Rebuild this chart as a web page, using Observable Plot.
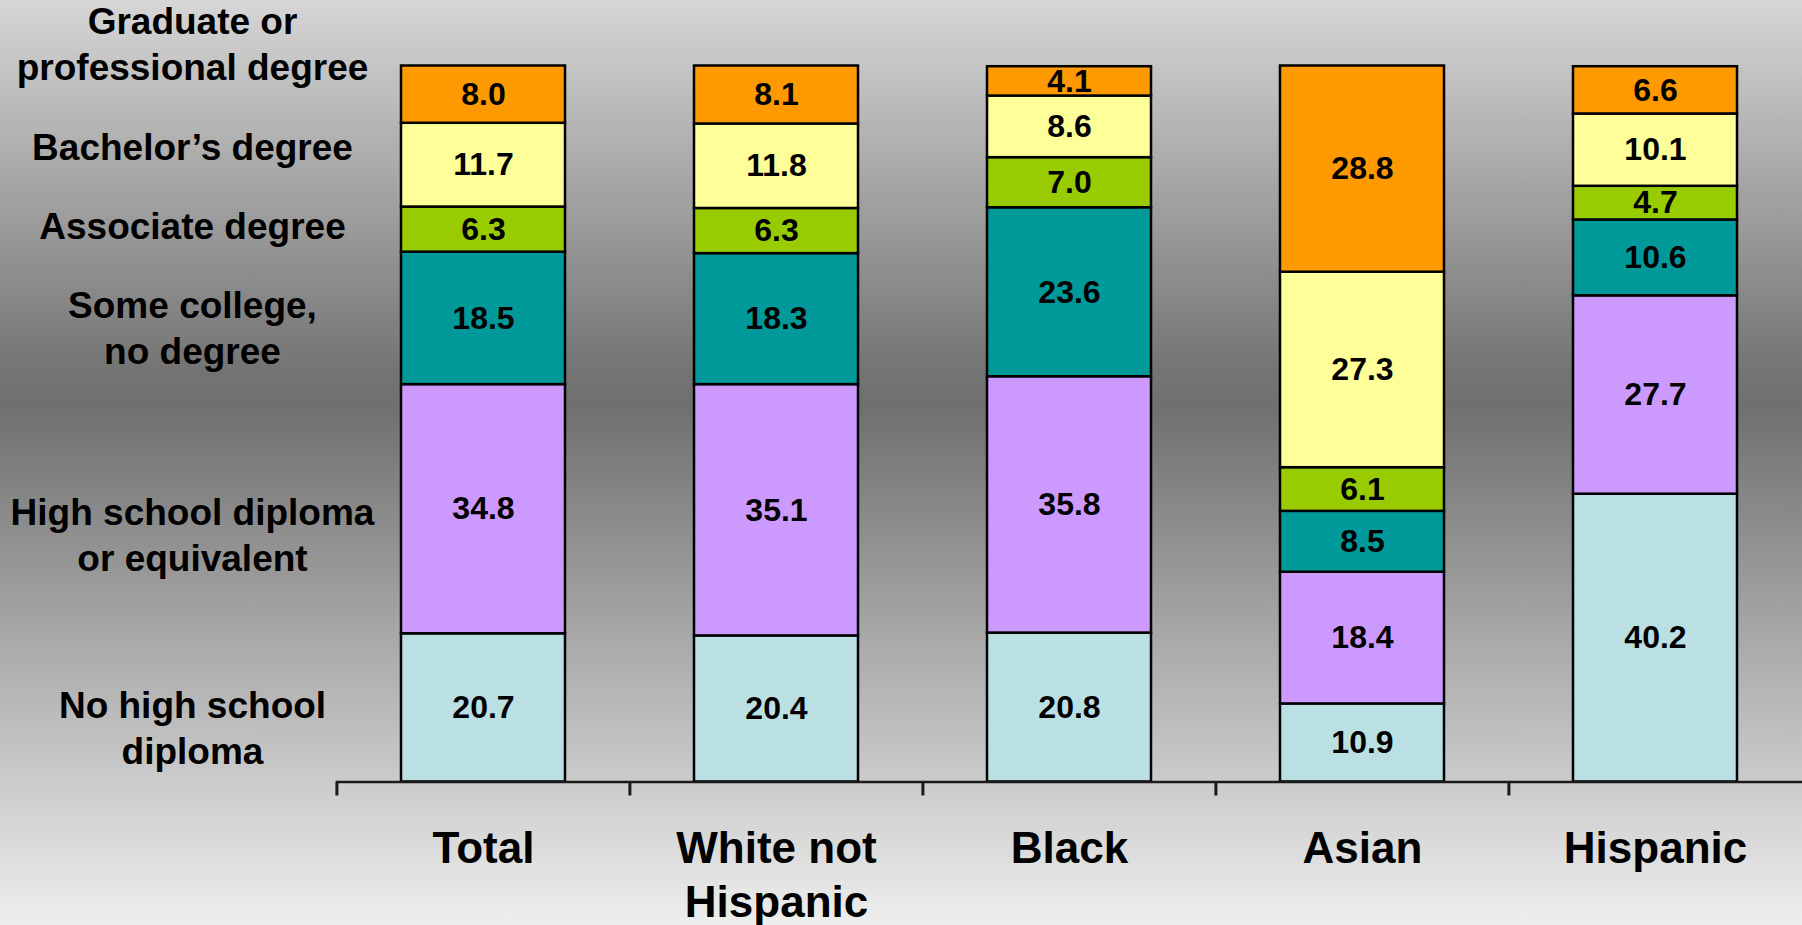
<!DOCTYPE html>
<html>
<head>
<meta charset="utf-8">
<script src="https://cdn.jsdelivr.net/npm/d3@7"></script>
<script src="https://cdn.jsdelivr.net/npm/@observablehq/plot@0.6"></script>
<style>
  html, body { margin: 0; padding: 0; overflow: hidden; }
  body { background: linear-gradient(to bottom, #d6d6d6 0%, #747474 40%, #707070 44%, #eeeeee 100%); }
</style>
</head>
<body>
<div id="chart"></div>
<script>
const categories = ["Total", "White not Hispanic", "Black", "Asian", "Hispanic"];
const categoryTickLabels = ["Total", "White not\nHispanic", "Black", "Asian", "Hispanic"];
const levels = [
  "No high school diploma",
  "High school diploma or equivalent",
  "Some college, no degree",
  "Associate degree",
  "Bachelor’s degree",
  "Graduate or professional degree"
];
const levelLabels = [
  "No high school\ndiploma",
  "High school diploma\nor equivalent",
  "Some college,\nno degree",
  "Associate degree",
  "Bachelor’s degree",
  "Graduate or\nprofessional degree"
];
const noHighSchool = [20.7, 20.4, 20.8, 10.9, 40.2];
const highSchool   = [34.8, 35.1, 35.8, 18.4, 27.7];
const someCollege  = [18.5, 18.3, 23.6, 8.5, 10.6];
const associate    = [6.3, 6.3, 7.0, 6.1, 4.7];
const bachelors    = [11.7, 11.8, 8.6, 27.3, 10.1];
const graduate     = [8.0, 8.1, 4.1, 28.8, 6.6];
const levelColors  = ["#BBE0E3", "#CC99FF", "#009999", "#99CC00", "#FFFF99", "#FF9900"];

const series = [noHighSchool, highSchool, someCollege, associate, bachelors, graduate];
const rows = [];
levels.forEach((level, li) => {
  categories.forEach((category, ci) => {
    rows.push({category, level, value: series[li][ci]});
  });
});

// legend label anchor: midpoints of the Total column's stacked segments
const totalVals = series.map(s => s[0]);
const totalCum = d3.cumsum(totalVals);
const legendRows = levels.map((level, i) => ({
  level, label: levelLabels[i], y: totalCum[i] - totalVals[i] / 2
}));
const legendNudge = [18, 24, 8, -5, -20, -52];

const W = 1802, H = 925;
const marginLeft = 336, marginRight = 0, marginTop = 65.5, marginBottom = 143.5;
const step = (W - marginLeft - marginRight) / categories.length;
const font = "'Liberation Sans', Arial, Helvetica, sans-serif";
const bg = "linear-gradient(to bottom, #d6d6d6 0%, #747474 40%, #707070 44%, #eeeeee 100%)";

const chart = Plot.plot({
  width: W,
  height: H,
  marginLeft, marginRight, marginTop, marginBottom,
  style: {
    background: bg,
    fontFamily: font,
    color: "black",
    overflow: "visible"
  },
  x: {type: "band", domain: categories, paddingInner: 0.44, paddingOuter: 0.22, axis: null},
  y: {domain: [0, 100], axis: null},
  color: {domain: levels, range: levelColors},
  marks: [
    Plot.barY(rows, Plot.stackY({
      x: "category", y: "value", z: "level", fill: "level",
      stroke: "black", strokeWidth: 2.5
    })),
    Plot.text(rows, Plot.stackY({
      x: "category", y: "value", z: "level",
      text: d => d.value.toFixed(1),
      fontSize: 32, fontWeight: "bold", fill: "black"
    })),
    Plot.ruleY([0], {stroke: "#1a1a1a", strokeWidth: 2.5}),
    Plot.axisX({
      tickSize: 14, strokeWidth: 3, stroke: "#1a1a1a", text: null, dx: -step / 2, label: null
    }),
    Plot.axisX({
      tickSize: 0, tickPadding: 43, fontSize: 44, fontWeight: "bold", lineHeight: 1.22,
      fill: "black",
      tickFormat: d => categoryTickLabels[categories.indexOf(d)], label: null
    }),
    ...legendRows.map((d, i) => Plot.text([d], {
      y: "y", text: "label", frameAnchor: "left", dx: -144, dy: legendNudge[i],
      textAnchor: "middle", lineAnchor: "middle",
      fontSize: 37, fontWeight: "bold", lineHeight: 1.24, fill: "black"
    }))
  ]
});
document.getElementById("chart").appendChild(chart);
</script>
</body>
</html>
